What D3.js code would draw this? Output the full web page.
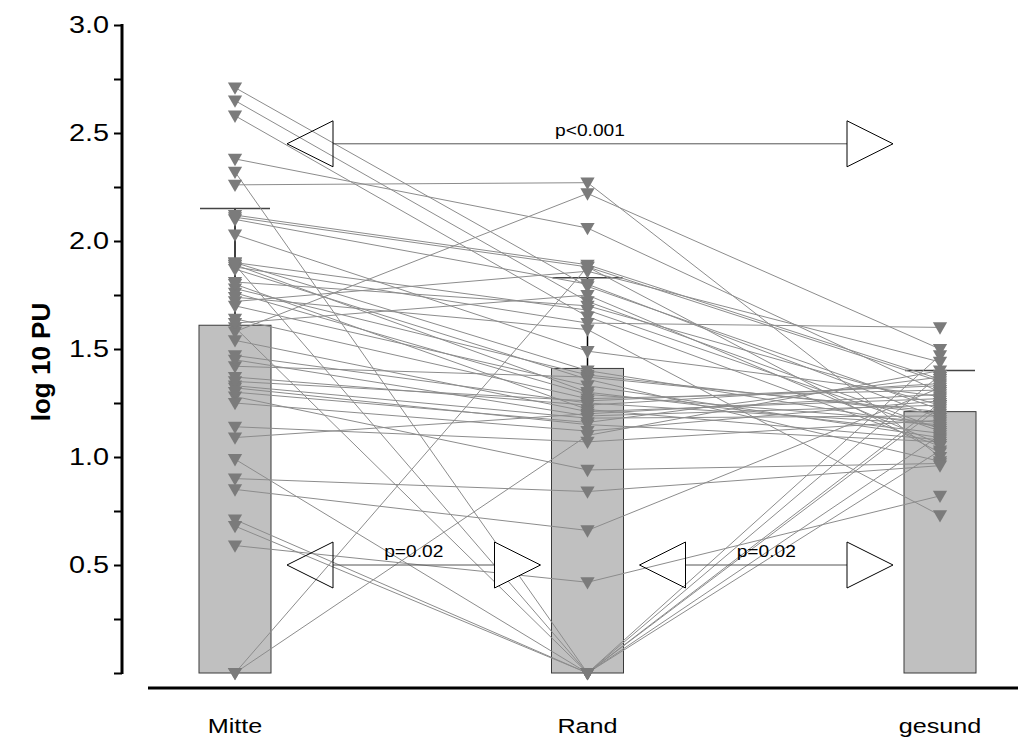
<!DOCTYPE html>
<html>
<head>
<meta charset="utf-8">
<script src="https://cdn.jsdelivr.net/npm/d3@7"></script>
<style>
  html, body { margin: 0; padding: 0; background: #fff; }
  svg { display: block; font-family: Arial, "Liberation Sans", sans-serif; }
  .tick text { transform-box: fill-box; transform-origin: right center; transform: scaleX(1.2); }
  .wide { transform-box: fill-box; transform-origin: center center; transform: scaleX(1.2); }
</style>
</head>
<body>
<svg id="chart" width="1018" height="738"></svg>
<script>
// Groups along the x axis
const categories = ["Mitte", "Rand", "gesund"];

// Group means (bar heights) and upper error limits
const barMeans = [1.61, 1.41, 1.21];
const barUpper = [2.15, 1.83, 1.40];

// Paired values per subject, one entry per subject in the same order
const mitteValues  = [2.71, 2.65, 2.58, 2.38, 2.32, 2.26, 2.12, 2.10, 2.03, 1.90,
                      1.89, 1.88, 1.87, 1.81, 1.78, 1.76, 1.74, 1.72, 1.70, 1.64,
                      1.60, 1.58, 1.54, 1.47, 1.42, 1.37, 1.33, 1.32, 1.28, 1.25,
                      1.14, 1.09, 0.99, 0.90, 0.85, 0.71, 0.68, 0.59, 0.00, 0.00,
                      1.90, 1.89, 1.80, 1.35, 1.30, 1.62, 2.11, 1.45];
const randValues   = [1.79, 1.72, 1.65, 2.06, 0.00, 2.27, 1.89, 1.80, 1.49, 1.68,
                      0.00, 1.62, 1.36, 1.70, 1.38, 1.29, 1.59, 1.86, 1.33, 1.27,
                      0.00, 2.22, 1.21, 1.25, 1.37, 1.24, 1.18, 1.15, 0.94, 1.12,
                      1.07, 1.20, 0.00, 0.84, 0.66, 0.00, 0.00, 0.42, 1.88, 1.10,
                      1.40, 1.30, 1.22, 1.26, 1.16, 1.75, 1.88, 1.19];
const gesundValues = [1.22, 1.13, 1.05, 1.30, 1.25, 1.00, 1.36, 1.18, 1.28, 1.12,
                      1.10, 1.60, 0.98, 1.24, 1.20, 1.16, 0.73, 1.44, 1.09, 1.31,
                      1.03, 1.50, 1.27, 1.15, 1.21, 1.34, 1.19, 1.07, 0.97, 1.26,
                      1.17, 1.29, 1.23, 0.96, 1.32, 1.38, 1.47, 0.82, 1.35, 1.40,
                      1.14, 1.11, 1.08, 1.33, 1.37, 1.06, 1.02, 1.24];

// Y axis ticks
const yTicks = [0, 0.25, 0.5, 0.75, 1.0, 1.25, 1.5, 1.75, 2.0, 2.25, 2.5, 2.75, 3.0];
const yTickLabels = ["", "", "0.5", "", "1.0", "", "1.5", "", "2.0", "", "2.5", "", "3.0"];

// Significance brackets: [from group, to group, label, level]
const comparisons = [
  { from: "Mitte", to: "gesund", label: "p<0.001", level: 2.45 },
  { from: "Mitte", to: "Rand",   label: "p=0.02",  level: 0.50 },
  { from: "Rand",  to: "gesund", label: "p=0.02",  level: 0.50 }
];

const svg = d3.select("#chart");

const y = d3.scaleLinear().domain([0, 3]).range([673, 25]);
const x = d3.scalePoint().domain(categories).range([235, 940]);
const barW = 72;

const subjects = mitteValues.map((m, i) => [m, randValues[i], gesundValues[i]]);

// Bars
svg.append("g").selectAll("rect")
  .data(barMeans)
  .join("rect")
  .attr("x", (d, i) => x(categories[i]) - barW / 2)
  .attr("y", d => y(d))
  .attr("width", barW)
  .attr("height", d => y(0) - y(d))
  .attr("fill", "#c0c0c0")
  .attr("stroke", "#3a3a3a")
  .attr("stroke-width", 1);

// Error bars (upper only)
const eb = svg.append("g");
eb.selectAll("line.v")
  .data(barUpper)
  .join("line")
  .attr("class", "v")
  .attr("x1", (d, i) => x(categories[i]))
  .attr("x2", (d, i) => x(categories[i]))
  .attr("y1", (d, i) => y(barMeans[i]))
  .attr("y2", d => y(d))
  .attr("stroke", "#000")
  .attr("stroke-width", 1.5);
eb.selectAll("line.cap")
  .data(barUpper)
  .join("line")
  .attr("class", "cap")
  .attr("x1", (d, i) => x(categories[i]) - 35)
  .attr("x2", (d, i) => x(categories[i]) + 35)
  .attr("y1", d => y(d))
  .attr("y2", d => y(d))
  .attr("stroke", "#444")
  .attr("stroke-width", 1.5);

// Subject connecting lines
const lineGen = d3.line()
  .x((d, i) => x(categories[i]))
  .y(d => y(d));
svg.append("g").selectAll("path")
  .data(subjects)
  .join("path")
  .attr("d", lineGen)
  .attr("fill", "none")
  .attr("stroke", "#8c8c8c")
  .attr("stroke-width", 1);

// Downward triangle markers
const tri = d3.symbol().type(d3.symbolTriangle).size(88);
const points = [];
subjects.forEach(s => s.forEach((v, i) => points.push({ cat: categories[i], v })));
svg.append("g").selectAll("path")
  .data(points)
  .join("path")
  .attr("d", tri)
  .attr("transform", d => `translate(${x(d.cat)},${y(d.v) - 1}) rotate(180)`)
  .attr("fill", "#7b7b7b");

// Y axis
const yAxis = d3.axisLeft(y)
  .tickValues(yTicks)
  .tickSize(8)
  .tickPadding(5)
  .tickFormat((d, i) => yTickLabels[i]);
const gy = svg.append("g")
  .attr("transform", "translate(122,0)")
  .call(yAxis);
gy.select(".domain")
  .attr("d", `M0,${y(3) - 1}V${y(0) + 1}`)
  .attr("stroke", "#000")
  .attr("stroke-width", 3);
gy.selectAll(".tick line").attr("stroke", "#000").attr("stroke-width", 2);
gy.selectAll(".tick text")
  .attr("font-size", 24)
  .attr("fill", "#000")
  .attr("font-family", "Arial, 'Liberation Sans', sans-serif");

// Y axis title
svg.append("text")
  .attr("transform", `translate(50,362) rotate(-90)`)
  .attr("text-anchor", "middle")
  .attr("font-size", 26)
  .attr("font-weight", "bold")
  .text("log 10 PU");

// X axis baseline
svg.append("line")
  .attr("x1", 148).attr("x2", 1018)
  .attr("y1", 688).attr("y2", 688)
  .attr("stroke", "#000")
  .attr("stroke-width", 3);

// Category labels
svg.append("g").selectAll("text")
  .data(categories)
  .join("text")
  .attr("class", "wide")
  .attr("x", d => x(d))
  .attr("y", 733)
  .attr("text-anchor", "middle")
  .attr("font-size", 21)
  .text(d => d);

// Significance arrows
const headL = 46, headH = 23;
const ag = svg.append("g");
comparisons.forEach(c => {
  const cy = y(c.level);
  const xa = x(c.from) + 52;
  const xb = x(c.to) - 47;
  ag.append("line")
    .attr("x1", xa + headL).attr("x2", xb - headL)
    .attr("y1", cy).attr("y2", cy)
    .attr("stroke", "#555").attr("stroke-width", 1);
  ag.append("path")
    .attr("d", `M${xa},${cy}L${xa + headL},${cy - headH}L${xa + headL},${cy + headH}Z`)
    .attr("fill", "none").attr("stroke", "#000").attr("stroke-width", 1);
  ag.append("path")
    .attr("d", `M${xb},${cy}L${xb - headL},${cy - headH}L${xb - headL},${cy + headH}Z`)
    .attr("fill", "#fff").attr("stroke", "#000").attr("stroke-width", 1);
  ag.append("text")
    .attr("class", "wide")
    .attr("x", (xa + xb) / 2)
    .attr("y", cy - 8)
    .attr("text-anchor", "middle")
    .attr("font-size", 16)
    .text(c.label);
});
</script>
</body>
</html>
